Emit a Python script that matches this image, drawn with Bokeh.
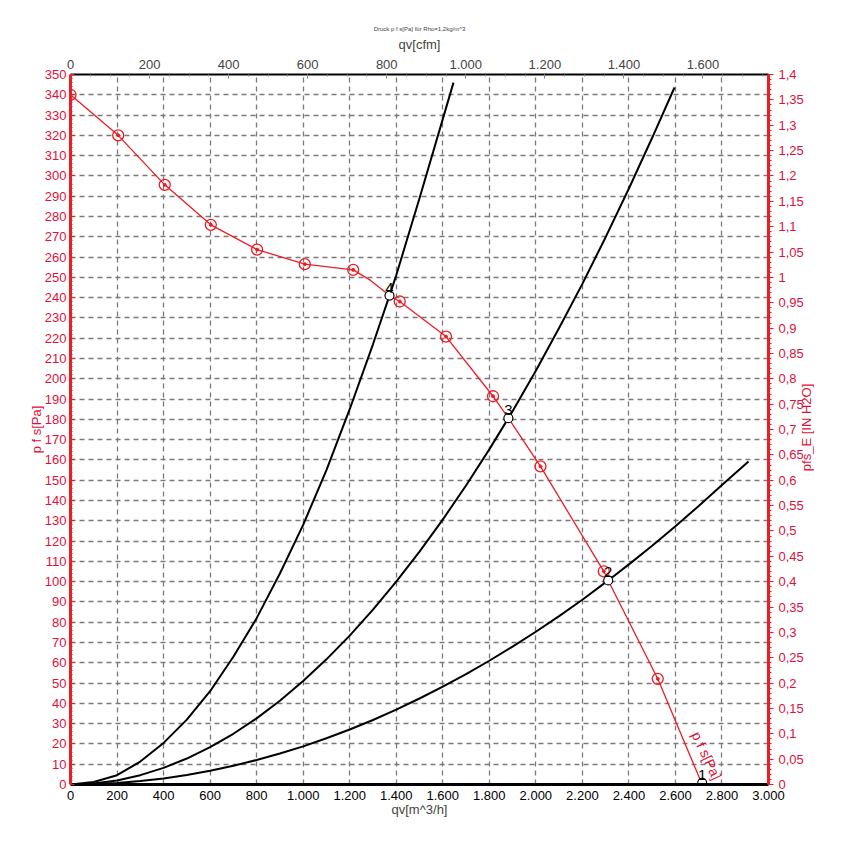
from bokeh.plotting import figure
from bokeh.models import (Range1d, LinearAxis, FixedTicker, CustomJSTickFormatter,
                          ColumnDataSource, Label)
from bokeh.embed import file_html
from bokeh.resources import INLINE
from bokeh.core.properties import value

# ---------------- data ----------------
# fan curve markers  (qv in m^3/h, pfs in Pa)
fan_marker_qv = [0, 205, 405, 603, 802, 1007, 1215, 1415, 1614, 1816, 2020, 2292, 2524]
fan_marker_p = [340, 320, 295.6, 275.9, 263.7, 256.5, 253.7, 238.1, 220.8, 191.4, 156.8, 105.1, 52.1]

# fan curve line
fan_line_qv = [0, 205, 405, 603, 802, 1007, 1215, 1290, 1371, 1415, 1614, 1816, 1882, 2020, 2292, 2311, 2524, 2715]
fan_line_p = [340, 320, 295.6, 275.9, 263.7, 256.5, 253.7, 248.5, 241, 238.1, 220.8, 191.4, 180.6, 156.8, 105.1, 100.6, 52.1, 0]

# operating points
op_qv = [1371, 1882, 2311, 2715]
op_p = [241, 180.6, 100.6, 0.8]
op_labels = ["4", "3", "2", "1"]

# system curves
sysA_qv = [0, 100, 200, 300, 400, 500, 600, 700, 800, 900, 1000, 1100, 1200, 1300, 1371, 1400, 1500, 1600, 1646]
sysA_p = [0, 1.2, 4.6, 11.3, 20.5, 32, 46, 63, 82, 104, 128, 155, 185, 217, 241, 251, 289, 328, 346]
sysB_qv = [0, 100, 200, 300, 400, 500, 600, 700, 800, 900, 1000, 1100, 1200, 1300, 1400, 1500, 1600, 1700,
           1800, 1882, 1900, 2000, 2100, 2200, 2300, 2400, 2500, 2596]
sysB_p = [0, 0.5, 2.0, 4.6, 8.2, 12.8, 18.4, 25, 32.6, 41.3, 51, 61.7, 73.4, 86.2, 100, 114.8, 130.6, 147.4,
          165.2, 180.6, 184, 204, 225, 246.8, 269.8, 293.8, 318.8, 343.6]
sysC_qv = [0, 100, 200, 300, 400, 500, 600, 700, 800, 900, 1000, 1100, 1200, 1300, 1400, 1500, 1600, 1700,
           1800, 1900, 2000, 2100, 2200, 2311, 2400, 2500, 2600, 2700, 2800, 2914]
sysC_p = [0, 0.2, 0.75, 1.7, 3.0, 4.7, 6.8, 9.2, 12.1, 15.3, 18.8, 22.8, 27.1, 31.8, 36.9, 42.4, 48.2, 54.4,
          61, 68, 75.3, 83, 91.1, 100.6, 108.5, 117.7, 127.3, 137.3, 147.6, 159.2]

# axes
x_ticks = list(range(0, 3001, 200))          # m^3/h
y_ticks = list(range(0, 351, 10))            # Pa
cfm_ticks = list(range(0, 1601, 200))        # cfm
inh2o_ticks = [round(i * 0.05, 2) for i in range(29)]  # in H2O
M3H_PER_CFM = 1.699

RED = "#ee1c25"
RED_TXT = "#e0103a"
FONT = "Liberation Sans"

p = figure(width=829, height=846, output_backend="svg", toolbar_location=None,
           x_range=Range1d(0, 3000), y_range=Range1d(0, 350),
           min_border_left=70, min_border_right=61, min_border_top=74, min_border_bottom=62,
           x_axis_label="qv[m^3/h]", y_axis_label="p f s[Pa]")
p.outline_line_color = None
p.background_fill_color = "white"

p.title.text = "Druck p f s[Pa] für Rho=1,2kg/m^3"
p.title.align = "center"
p.title.text_font = FONT
p.title.text_font_size = "6px"
p.title.text_font_style = "normal"
p.title.standoff = 4

thousands = CustomJSTickFormatter(code="""
const t = Math.round(tick);
if (t >= 1000) { const th = Math.floor(t/1000); const r = t % 1000; return th + '.' + String(r).padStart(3,'0'); }
return String(t);
""")

# grid
for g, tk in ((p.xgrid, x_ticks), (p.ygrid, y_ticks)):
    g.ticker = FixedTicker(ticks=tk)
    g.grid_line_color = "#7a7a7a"
    g.grid_line_dash = "5 4"
    g.grid_line_width = 1.3

# bottom axis
xa = p.xaxis[0]
xa.ticker = FixedTicker(ticks=x_ticks)
xa.formatter = thousands
xa.axis_line_color = "black"
xa.axis_line_width = 3
xa.major_tick_in = 0
xa.major_tick_out = 0
xa.minor_tick_line_color = None
xa.major_label_standoff = 6
xa.major_label_text_font = FONT
xa.major_label_text_font_size = "13px"
xa.major_label_text_color = "black"
xa.axis_label_standoff = -1
xa.axis_label_text_font = FONT
xa.axis_label_text_font_size = "13px"
xa.axis_label_text_font_style = "normal"

# left axis
ya = p.yaxis[0]
ya.ticker = FixedTicker(ticks=y_ticks, minor_ticks=[i * 2 for i in range(176)])
ya.axis_line_color = RED
ya.axis_line_width = 3
ya.major_tick_line_color = RED
ya.major_tick_in = 4
ya.major_tick_out = 0
ya.minor_tick_line_color = RED
ya.minor_tick_in = 2
ya.minor_tick_out = 0
ya.major_label_standoff = 4
ya.major_label_text_font = FONT
ya.major_label_text_font_size = "13px"
ya.major_label_text_color = RED_TXT
ya.axis_label_standoff = -2
ya.axis_label_text_font = FONT
ya.axis_label_text_font_size = "13px"
ya.axis_label_text_font_style = "normal"
ya.axis_label_text_color = RED_TXT

# extra ranges
p.extra_x_ranges = {"cfm": Range1d(0, 3000 / M3H_PER_CFM)}
p.extra_y_ranges = {"inh2o": Range1d(0, 1.4)}

top = LinearAxis(x_range_name="cfm", axis_label="qv[cfm]")
top.ticker = FixedTicker(ticks=cfm_ticks, minor_ticks=list(range(0, 1766, 50)))
top.formatter = thousands
top.axis_line_color = "black"
top.axis_line_width = 2
top.major_tick_line_color = "#888888"
top.major_tick_in = 4
top.major_tick_out = 0
top.minor_tick_line_color = "#888888"
top.minor_tick_in = 2
top.minor_tick_out = 0
top.major_label_standoff = 6
top.major_label_text_font = FONT
top.major_label_text_font_size = "13px"
top.axis_label_standoff = 5
top.axis_label_text_font = FONT
top.axis_label_text_font_size = "13px"
top.axis_label_text_font_style = "normal"
p.add_layout(top, "above")

right = LinearAxis(y_range_name="inh2o")
right.ticker = FixedTicker(ticks=inh2o_ticks, minor_ticks=[round(i * 0.01, 2) for i in range(141)])
right.formatter = CustomJSTickFormatter(code="return (Math.round(tick*100)/100).toString().replace('.', ',');")
right.axis_line_color = RED
right.axis_line_width = 3
right.major_tick_line_color = RED
right.major_tick_in = 0
right.major_tick_out = 5
right.minor_tick_line_color = RED
right.minor_tick_in = 0
right.minor_tick_out = 3
right.major_label_standoff = 5
right.major_label_text_font = FONT
right.major_label_text_font_size = "13px"
right.major_label_text_color = RED_TXT
p.add_layout(right, "right")

# right axis title, reading bottom to top, placed in the right-hand panel
p.add_layout(Label(x=3164, y=176, text="pfs_E [IN H2O]", angle=90, angle_units="deg",
                   text_align="center", text_baseline="middle", text_color=RED_TXT,
                   text_font=FONT, text_font_size="13px"), "right")

# system curves
for qv, pp in ((sysA_qv, sysA_p), (sysB_qv, sysB_p), (sysC_qv, sysC_p)):
    p.line(qv, pp, line_color="black", line_width=2)

# fan curve
p.line(fan_line_qv, fan_line_p, line_color=RED, line_width=1.3)
p.scatter(fan_marker_qv, fan_marker_p, marker="circle", size=11,
          line_color=RED, line_width=1.3, fill_alpha=0)
p.scatter(fan_marker_qv, fan_marker_p, marker="circle", size=3,
          line_color=RED, fill_color=RED)

# operating points
op_src = ColumnDataSource(dict(x=op_qv, y=op_p, t=op_labels))
p.scatter("x", "y", source=op_src, marker="circle", size=9,
          line_color="black", line_width=1.2, fill_color="white")
p.text("x", "y", text="t", source=op_src, text_align="center", text_baseline="alphabetic",
       y_offset=-8, text_font=value(FONT), text_font_size="15px", text_color="black")

# curve name along the fan curve end
p.text(x=[2656], y=[24], text=["p f s[Pa]"], angle=-65, angle_units="deg",
       text_align="left", text_baseline="bottom", text_color=RED_TXT,
       text_font=value(FONT), text_font_size="14px")

open("out.html", "w").write(file_html(p, INLINE))
